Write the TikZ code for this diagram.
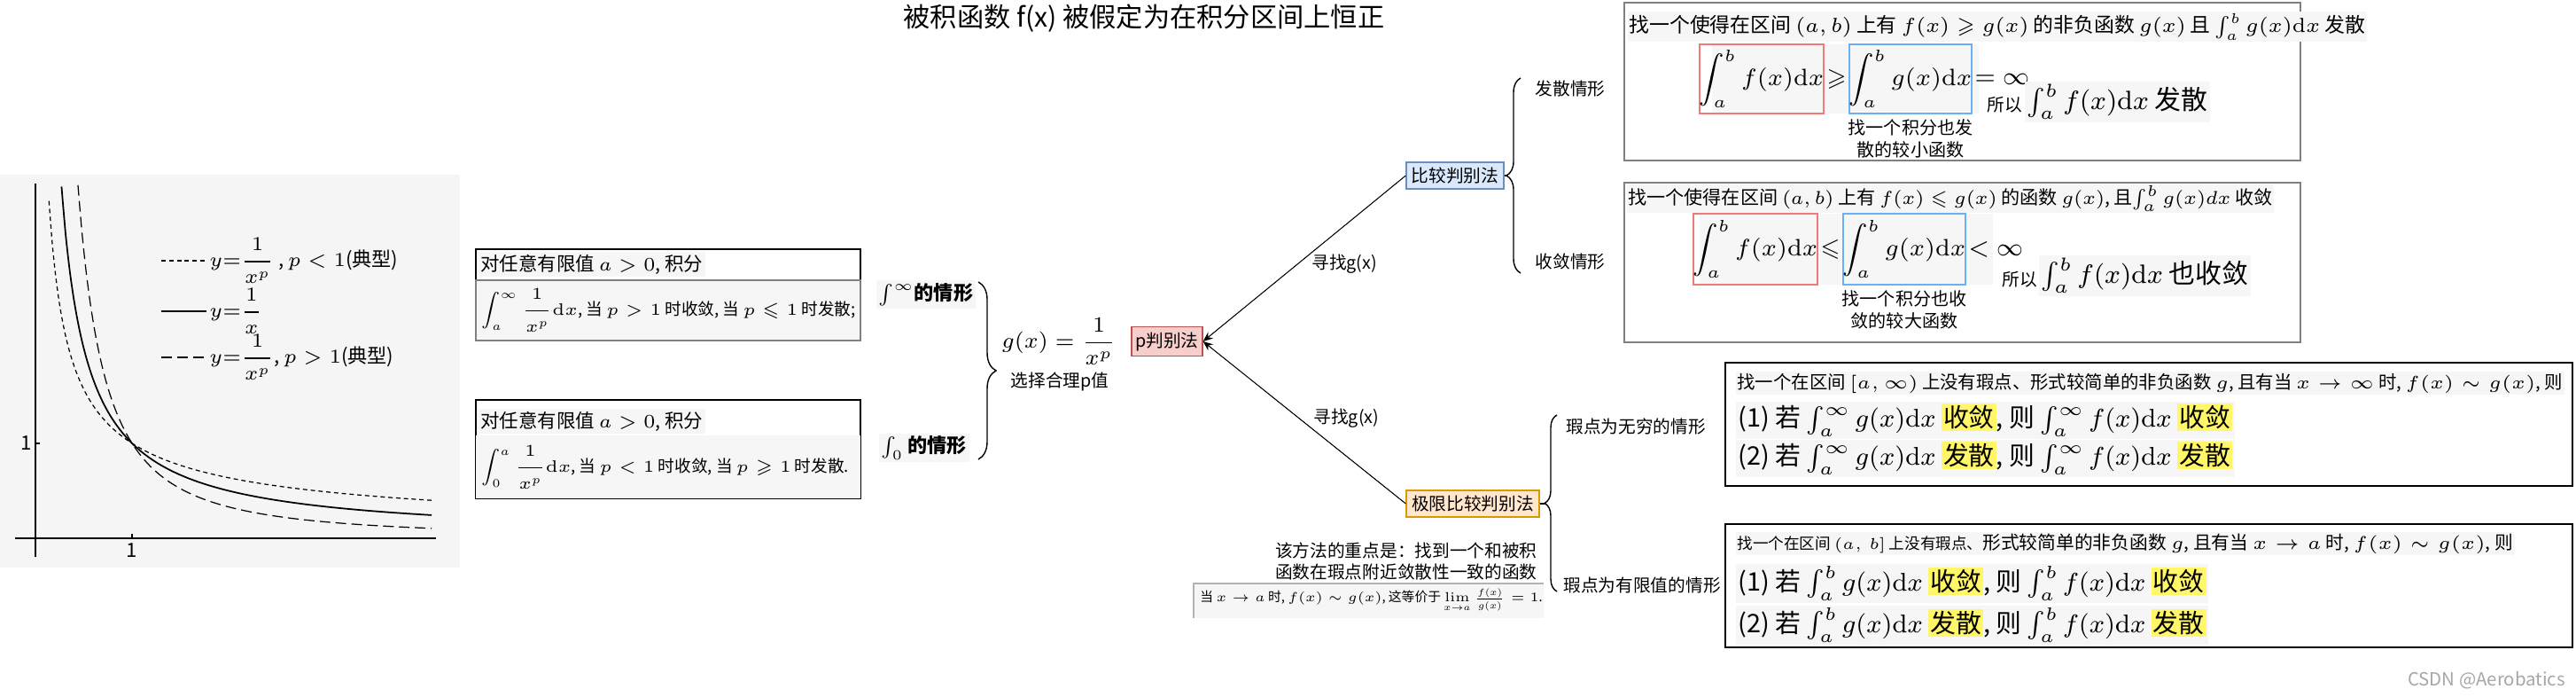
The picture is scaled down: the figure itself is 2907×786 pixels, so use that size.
\documentclass[tikz,border=0pt]{standalone}
\usepackage{fix-cm}
\usepackage{amsmath,amssymb}
\usepackage[no-math]{fontspec}
\setmainfont{Noto Sans CJK SC}
\usepackage{tikz}
\usetikzlibrary{arrows.meta,positioning,decorations.pathreplacing}
\definecolor{PRedFill}{HTML}{F8CECC}
\definecolor{PRedLine}{HTML}{B85450}
\definecolor{CmpFill}{HTML}{DAE8FC}
\definecolor{CmpLine}{HTML}{6C8EBF}
\definecolor{LimFill}{HTML}{FFE6CC}
\definecolor{LimLine}{HTML}{D79B00}
\definecolor{FormBg}{HTML}{F6F6F6}
\definecolor{GraphBg}{HTML}{F5F5F5}
\definecolor{RedFrame}{HTML}{EE7B78}
\definecolor{BlueFrame}{HTML}{6AB0F5}
\definecolor{HiYellow}{HTML}{FFF668}
\newcommand{\hlt}[1]{{\setlength{\fboxsep}{0.6pt}\colorbox{HiYellow}{#1}}}

\begin{document}
\begin{tikzpicture}[x=0.01cm,y=-0.01cm,
  lbl/.style={inner sep=0.5pt,font=\fontsize{5.6}{6.6}\selectfont},
  method/.style={draw,line width=0.35pt,inner sep=1pt,minimum height=0.3cm,font=\fontsize{5.6}{6.6}\selectfont},
  gtxt/.style={inner sep=0.5pt,font=\fontsize{6.3}{7.3}\selectfont},
  bhd/.style={inner sep=0.8pt,fill=FormBg,font=\fontsize{6.1}{7}\selectfont},
  btxt/.style={inner sep=0.8pt,font=\fontsize{5.3}{6.3}\selectfont},
  htxt/.style={inner sep=0.5pt,fill=FormBg,font=\fontsize{6.4}{7.4}\selectfont},
  bigtxt/.style={inner sep=0.8pt,fill=FormBg,font=\fontsize{8.2}{9.2}\selectfont},
  frm/.style={draw,line width=0.5pt,inner sep=0pt,font=\fontsize{7.6}{8.6}\selectfont},
  frmtxt/.style={inner sep=0.5pt,font=\fontsize{8}{9}\selectfont},
  restxt/.style={inner sep=0.8pt,fill=FormBg,font=\fontsize{8.5}{9.5}\selectfont},
  casetxt/.style={inner sep=0.8pt,fill=FormBg,font=\fontsize{6.3}{7}\selectfont\bfseries},
  panel/.style={draw,line width=0.5pt},
  link/.style={line width=0.3pt,-{Stealth[length=1.1mm,width=0.9mm]}},
  brc/.style={decorate,decoration={brace,amplitude=#1},line width=0.4pt},
  shortdash/.style={dash pattern=on 1.4pt off 1.1pt},
  longdash/.style={dash pattern=on 3.4pt off 1.7pt},
]
\useasboundingbox (0,0) rectangle (2907,786);

\node[font=\fontsize{8.6}{9.6}\selectfont,inner sep=0pt] (title) at (1291,21) {被积函数 f(x) 被假定为在积分区间上恒正};

% graph of 1/x^p
\fill[GraphBg] (0,197) rectangle (519,640);
\draw[line width=0.45pt] (40,628) -- (40,207);
\draw[line width=0.45pt] (17,607) -- (492,607);
\draw[line width=0.45pt] (40,500) -- (45,500) (149,607) -- (149,602);
\node[gtxt,anchor=east] (yone) at (38,500) {1};
\node[gtxt,anchor=north] (xone) at (149,610) {1};
\begin{scope}[shift={(40,607)},x=1.09cm,y=1.07cm]
  \draw[line width=0.5pt,domain=0.27:4.1,samples=90,smooth] plot (\x,{1/\x});
  \draw[line width=0.35pt,longdash,domain=0.44:4.1,samples=90,smooth] plot (\x,{1/(\x^1.6)});
  \draw[line width=0.35pt,shortdash,domain=0.14:4.1,samples=120,smooth] plot (\x,{1/(\x^0.65)});
\end{scope}
\draw[line width=0.4pt,shortdash] (182,294) -- (233,294);
\node[gtxt,anchor=west] (lgLess) at (234,294) {$y{=}\dfrac{1}{x^p}$ , $p<1$(典型)};
\draw[line width=0.6pt] (182,351) -- (233,351);
\node[gtxt,anchor=west] (lgOne) at (234,351) {$y{=}\dfrac{1}{x}$};
\draw[line width=0.5pt,longdash] (182,403) -- (233,403);
\node[gtxt,anchor=west] (lgMore) at (234,403) {$y{=}\dfrac{1}{x^p}$, $p>1$(典型)};

% the two integrals of 1/x^p
\draw[line width=0.35pt] (537,281) rectangle (971,384);
\filldraw[fill=FormBg,draw=gray,line width=0.35pt] (537,316) rectangle (971,384);
\node[bhd,anchor=west] (hdA) at (539,298) {对任意有限值 $a>0$, 积分};
\node[btxt,anchor=west] (bdA) at (540,350) {$\displaystyle\int_a^{\infty}\frac{1}{x^p}\mathrm{d}x$, 当 $p>1$ 时收敛, 当 $p\leqslant 1$ 时发散;};
\draw[line width=0.35pt] (537,451) rectangle (971,562);
\fill[FormBg] (537,491) rectangle (971,562);
\node[bhd,anchor=west] (hdB) at (539,475) {对任意有限值 $a>0$, 积分};
\node[btxt,anchor=west] (bdB) at (540,527) {$\displaystyle\int_0^{a}\frac{1}{x^p}\mathrm{d}x$, 当 $p<1$ 时收敛, 当 $p\geqslant 1$ 时发散.};

\node[casetxt] (caseInf) at (1045,332) {$\int^{\infty}$的情形};
\node[casetxt] (caseZero) at (1043,505) {$\int_{0}$ 的情形};
\coordinate (bzT) at (1104,318);
\coordinate (bzB) at (1104,518);
\draw[brc=0.2cm] (bzT) -- (bzB);
\node[inner sep=0pt,font=\fontsize{7}{8}\selectfont] (gdef) at (1195,385) {$\displaystyle g(x)=\frac{1}{x^p}$};
\node[lbl] (gnote) at (1196,430) {选择合理p值};

% methods
\node[method,fill=PRedFill,draw=PRedLine,minimum width=0.8cm,minimum height=0.33cm] (pnode) at (1317,385) {p判别法};
\node[method,fill=CmpFill,draw=CmpLine,minimum width=1.1cm] (cmp) at (1642,198) {比较判别法};
\node[method,fill=LimFill,draw=LimLine,minimum width=1.5cm] (lim) at (1662,568) {极限比较判别法};
\draw[link] (cmp.west) -- (pnode.east) node[lbl,pos=.535,anchor=west,xshift=1.4mm] (findA) {寻找g(x)};
\draw[link] (lim.west) -- (pnode.east) node[lbl,pos=.525,anchor=west,xshift=1.4mm] (findB) {寻找g(x)};

\coordinate (cmpTip) at (1700,198);
\coordinate (cmpT) at (1716,88);
\coordinate (cmpB) at (1716,308);
\draw[line width=0.4pt] (cmp.east) -- (cmpTip);
\draw[brc=0.16cm] (cmpB) -- (cmpT);
\node[lbl] (divCase) at (1772,100) {发散情形};
\node[lbl] (cvgCase) at (1772,295) {收敛情形};

\coordinate (limTip) at (1743,568);
\coordinate (limT) at (1757,468);
\coordinate (limB) at (1757,667);
\draw[line width=0.4pt] (lim.east) -- (limTip);
\draw[brc=0.14cm] (limB) -- (limT);
\node[lbl,anchor=west] (infCase) at (1765,481) {瑕点为无穷的情形};
\node[lbl,anchor=west] (finCase) at (1762,660) {瑕点为有限值的情形};

\node[lbl,anchor=east,align=right] (keyNote) at (1737,633) {该方法的重点是：找到一个和被积\\函数在瑕点附近敛散性一致的函数};
\fill[FormBg] (1347,658) rectangle (1742,697);
\draw[gray!60,line width=0.3pt] (1347,697) -- (1347,658) -- (1742,658);
\node[lbl,anchor=west,font=\fontsize{4.2}{5}\selectfont] (limNote) at (1352,677) {当 $x\to a$ 时, $f(x)\sim g(x)$, 这等价于 $\lim\limits_{x\to a}\frac{f(x)}{g(x)}=1$.};

% comparison test, divergent case
\draw[panel,draw=gray] (1833,3) rectangle (2596,181);
\node[htxt,anchor=west,font=\fontsize{6.5}{7.5}\selectfont] (hdDiv) at (1836,30) {找一个使得在区间 $(a,b)$ 上有 $f(x)\geqslant g(x)$ 的非负函数 $g(x)$ 且 $\int_a^b g(x)\mathrm{d}x$ 发散};
\fill[FormBg] (1932,50) rectangle (2233,128);
\node[frm,draw=RedFrame,minimum width=1.12cm,minimum height=0.78cm] (fDiv) at (1988,89) {$\displaystyle\int_a^b f(x)\mathrm{d}x$};
\node[frmtxt,right=0pt of fDiv] (geDiv) {$\geqslant$};
\node[frm,draw=BlueFrame,minimum width=1.1cm,minimum height=0.78cm,right=0pt of geDiv] (gDiv) {$\displaystyle\int_a^b g(x)\mathrm{d}x$};
\node[frmtxt,right=0pt of gDiv] (eqDiv) {$=\infty$};
\node[lbl,align=center,below=1pt of gDiv,font=\fontsize{5.7}{7.1}\selectfont] (noteDiv) {找一个积分也发\\散的较小函数};
\node[lbl,anchor=west] (soDiv) at (2240,118) {所以};
\node[restxt,anchor=west] (resDiv) at (2284,115) {$\int_a^b f(x)\mathrm{d}x$ 发散};

% comparison test, convergent case
\draw[panel,draw=gray] (1833,206) rectangle (2596,386);
\node[htxt,anchor=west,font=\fontsize{6}{7}\selectfont] (hdCvg) at (1835,224) {找一个使得在区间 $(a,b)$ 上有 $f(x)\leqslant g(x)$ 的函数 $g(x)$, 且$\int_a^b g(x)dx$ 收敛};
\fill[FormBg] (1918,241) rectangle (2249,321);
\node[frm,draw=RedFrame,minimum width=1.26cm,minimum height=0.8cm] (fCvg) at (1981,281) {$\displaystyle\int_a^b f(x)\mathrm{d}x$};
\node[frmtxt,right=0pt of fCvg] (leCvg) {$\leqslant$};
\node[frm,draw=BlueFrame,minimum width=1.2cm,minimum height=0.8cm,right=0pt of leCvg] (gCvg) {$\displaystyle\int_a^b g(x)\mathrm{d}x$};
\node[frmtxt,right=0pt of gCvg] (ltCvg) {$<\infty$};
\node[lbl,align=center,below=1pt of gCvg,font=\fontsize{5.7}{7.1}\selectfont] (noteCvg) {找一个积分也收\\敛的较大函数};
\node[lbl,anchor=west] (soCvg) at (2257,315) {所以};
\node[restxt,anchor=west] (resCvg) at (2300,311) {$\int_a^b f(x)\mathrm{d}x$ 也收敛};

% limit comparison, infinite bound
\draw[panel] (1947,409) rectangle (2903,548);
\node[htxt,anchor=west,font=\fontsize{5.8}{7}\selectfont] (hdInf) at (1958,432) {找一个在区间 $[a,\infty)$ 上没有瑕点、形式较简单的非负函数 $g$, 且有当 $x\to\infty$ 时, $f(x)\sim g(x)$, 则};
\node[bigtxt,anchor=west] (oneInf) at (1958,474) {(1) 若 $\int_a^{\infty} g(x)\mathrm{d}x$ \hlt{收敛}, 则 $\int_a^{\infty} f(x)\mathrm{d}x$ \hlt{收敛}};
\node[bigtxt,anchor=west] (twoInf) at (1958,517) {(2) 若 $\int_a^{\infty} g(x)\mathrm{d}x$ \hlt{发散}, 则 $\int_a^{\infty} f(x)\mathrm{d}x$ \hlt{发散}};

% limit comparison, finite bound
\draw[panel] (1947,591) rectangle (2903,730);
\node[htxt,anchor=west,font=\fontsize{5.9}{7}\selectfont] (hdFin) at (1958,613) {{\fontsize{5}{6}\selectfont 找一个在区间 $(a,\,b]$ 上没有瑕点、}形式较简单的非负函数 $g$, 且有当 $x\to a$ 时, $f(x)\sim g(x)$, 则};
\node[bigtxt,anchor=west] (oneFin) at (1958,658) {(1) 若 $\int_a^b g(x)\mathrm{d}x$ \hlt{收敛}, 则 $\int_a^b f(x)\mathrm{d}x$ \hlt{收敛}};
\node[bigtxt,anchor=west] (twoFin) at (1958,705) {(2) 若 $\int_a^b g(x)\mathrm{d}x$ \hlt{发散}, 则 $\int_a^b f(x)\mathrm{d}x$ \hlt{发散}};

\node[text=gray!70,font=\fontsize{5.8}{7}\selectfont,inner sep=0pt] (mark) at (2806,767) {CSDN @Aerobatics};
\end{tikzpicture}
\end{document}
